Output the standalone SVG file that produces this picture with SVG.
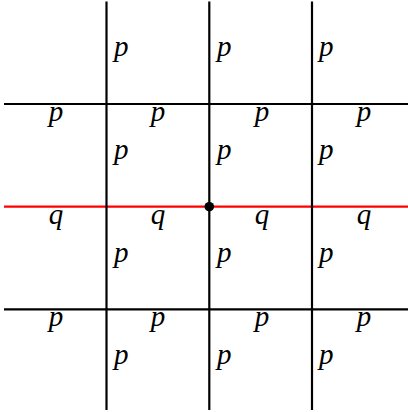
<svg xmlns="http://www.w3.org/2000/svg" width="408" height="412" viewBox="0 0 408 412">
<style>
.ln{stroke:#000;stroke-width:2.2;fill:none}
.red{stroke:#f00;stroke-width:2.2;fill:none}
.t{font-family:"Liberation Serif","Times New Roman",serif;font-style:italic;font-size:29px;fill:#000}
.c{text-anchor:middle}
</style>
<rect width="408" height="412" fill="#fff"/>
<g id="connectors">
<line class="ln" x1="4" y1="104" x2="408" y2="104"/>
<line class="ln" x1="4" y1="309.3" x2="408" y2="309.3"/>
<line class="red" x1="4" y1="206.7" x2="408" y2="206.7"/>
<line class="ln" x1="106.5" y1="1.5" x2="106.5" y2="410"/>
<line class="ln" x1="209.3" y1="1.5" x2="209.3" y2="410"/>
<line class="ln" x1="312" y1="1.5" x2="312" y2="410"/>
</g>
<g id="node-center"><circle cx="209.3" cy="206.7" r="4.8" fill="#000"/></g>
<g id="labels-vertical">
<text class="t" x="114" y="56">p</text>
<text class="t" x="217" y="56">p</text>
<text class="t" x="319" y="56">p</text>
<text class="t" x="114" y="159">p</text>
<text class="t" x="217" y="159">p</text>
<text class="t" x="319" y="159">p</text>
<text class="t" x="114" y="261.5">p</text>
<text class="t" x="217" y="261.5">p</text>
<text class="t" x="319" y="261.5">p</text>
<text class="t" x="114" y="364">p</text>
<text class="t" x="217" y="364">p</text>
<text class="t" x="319" y="364">p</text>
</g>
<g id="labels-horizontal">
<text class="t c" x="56" y="121">p</text>
<text class="t c" x="158" y="121">p</text>
<text class="t c" x="262" y="121">p</text>
<text class="t c" x="364" y="121">p</text>
<text class="t c" x="56" y="224">q</text>
<text class="t c" x="158" y="224">q</text>
<text class="t c" x="262" y="224">q</text>
<text class="t c" x="364" y="224">q</text>
<text class="t c" x="56" y="326">p</text>
<text class="t c" x="158" y="326">p</text>
<text class="t c" x="262" y="326">p</text>
<text class="t c" x="364" y="326">p</text>
</g>
</svg>
